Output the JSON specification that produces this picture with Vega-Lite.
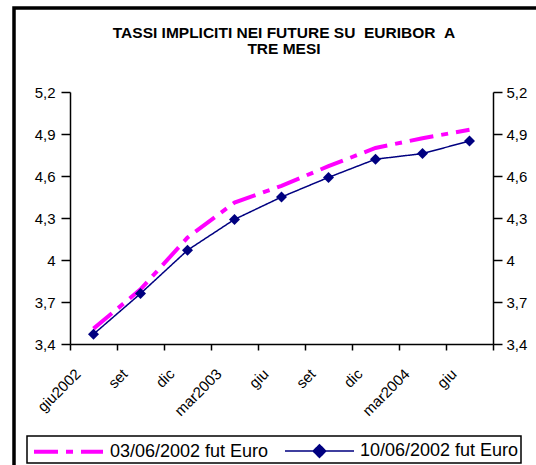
{
  "$schema": "https://vega.github.io/schema/vega-lite/v6.json",
  "width": 528,
  "height": 463,
  "autosize": {"type": "none"},
  "padding": {"left": 14, "top": 8, "right": -6, "bottom": -6},
  "background": "white",
  "title": {
    "text": ["TASSI IMPLICITI NEI FUTURE SU \u00a0EURIBOR \u00a0A", "TRE MESI"],
    "font": "Liberation Sans",
    "fontSize": 15.5,
    "fontWeight": "bold",
    "lineHeight": 16,
    "offset": -49,
    "dx": 6,
    "anchor": "middle",
    "color": "black"
  },
  "config": {
    "view": {"stroke": "black", "strokeWidth": 3.5},
    "axis": {
      "labelFont": "Liberation Sans",
      "labelFontSize": 15,
      "labelColor": "black",
      "domainColor": "black",
      "tickColor": "black",
      "domainWidth": 1.5,
      "tickWidth": 1.5,
      "grid": false,
      "title": null
    }
  },
  "data": {
    "values": [
      {"q": 0, "s": "03/06/2002 fut Euro", "v": 3.51},
      {"q": 1, "s": "03/06/2002 fut Euro", "v": 3.79},
      {"q": 2, "s": "03/06/2002 fut Euro", "v": 4.16},
      {"q": 3, "s": "03/06/2002 fut Euro", "v": 4.41},
      {"q": 4, "s": "03/06/2002 fut Euro", "v": 4.53},
      {"q": 5, "s": "03/06/2002 fut Euro", "v": 4.67},
      {"q": 6, "s": "03/06/2002 fut Euro", "v": 4.80},
      {"q": 7, "s": "03/06/2002 fut Euro", "v": 4.87},
      {"q": 8, "s": "03/06/2002 fut Euro", "v": 4.93},
      {"q": 0, "s": "10/06/2002 fut Euro", "v": 3.47},
      {"q": 1, "s": "10/06/2002 fut Euro", "v": 3.76},
      {"q": 2, "s": "10/06/2002 fut Euro", "v": 4.07},
      {"q": 3, "s": "10/06/2002 fut Euro", "v": 4.29},
      {"q": 4, "s": "10/06/2002 fut Euro", "v": 4.45},
      {"q": 5, "s": "10/06/2002 fut Euro", "v": 4.59},
      {"q": 6, "s": "10/06/2002 fut Euro", "v": 4.72},
      {"q": 7, "s": "10/06/2002 fut Euro", "v": 4.76},
      {"q": 8, "s": "10/06/2002 fut Euro", "v": 4.85}
    ]
  },
  "encoding": {
    "x": {
      "field": "q",
      "type": "ordinal",
      "bandPosition": 0.5,
      "scale": {"type": "band", "paddingInner": 0, "paddingOuter": 0, "range": [56, 479]},
      "axis": {
        "offset": -127,
        "labelExpr": "['giu2002','set','dic','mar2003','giu','set','dic','mar2004','giu'][datum.value]",
        "labelAngle": -45,
        "labelAlign": "right",
        "labelBaseline": "middle",
        "labelOffset": -16,
        "labelPadding": 21,
        "tickBand": "extent",
        "tickSize": 6,
        "encode": {
          "labels": {
            "update": {
              "dx": {"signal": "-(length(datum.label) - 3) * 2.4"}
            }
          }
        }
      }
    }
  },
  "layer": [
    {
      "mark": {"type": "line"},
      "encoding": {
        "y": {
          "field": "v",
          "type": "quantitative",
          "scale": {"domain": [3.4, 5.2], "nice": false, "zero": false, "range": [336, 84]},
          "axis": {
            "orient": "left",
            "offset": -56,
            "values": [3.4, 3.7, 4.0, 4.3, 4.6, 4.9, 5.2],
            "labelExpr": "replace(format(datum.value, '.1~f'), '.', ',')",
            "tickSize": 9,
            "labelPadding": 6
          }
        },
        "color": {
          "field": "s",
          "type": "nominal",
          "scale": {"domain": ["03/06/2002 fut Euro", "10/06/2002 fut Euro"], "range": ["#FF00FF", "#000080"]},
          "legend": {
            "orient": "none",
            "legendX": 13,
            "legendY": 428,
            "direction": "horizontal",
            "title": null,
            "strokeColor": "black",
            "padding": 2,
            "labelFont": "Liberation Sans",
            "labelFontSize": 18,
            "labelColor": "black",
            "labelLimit": 300,
            "columnPadding": 12,
            "symbolSize": 529,
            "labelOffset": 28,
            "symbolOffset": 26,
            "encode": {
              "legend": {"update": {"strokeWidth": {"value": 1.5}}},
              "symbols": {
                "update": {
                  "shape": {"signal": "datum.value === '03/06/2002 fut Euro' ? 'M-3,0H3' : 'M-3,0H3M0,-0.55L0.55,0L0,0.55L-0.55,0Z'"},
                  "strokeDash": {"signal": "datum.value === '03/06/2002 fut Euro' ? [23,13,7,13] : [1,0]"},
                  "strokeWidth": {"signal": "datum.value === '03/06/2002 fut Euro' ? 4 : 1.5"},
                  "fill": {"signal": "datum.value === '03/06/2002 fut Euro' ? 'transparent' : '#000080'"},
                  "opacity": {"value": 1}
                }
              }
            }
          }
        },
        "strokeDash": {
          "field": "s",
          "type": "nominal",
          "scale": {"domain": ["03/06/2002 fut Euro", "10/06/2002 fut Euro"], "range": [[24, 8, 7, 8], [1, 0]]},
          "legend": null
        },
        "strokeWidth": {
          "field": "s",
          "type": "nominal",
          "scale": {"domain": ["03/06/2002 fut Euro", "10/06/2002 fut Euro"], "range": [4, 1.5]},
          "legend": null
        }
      }
    },
    {
      "transform": [{"filter": "datum.s === '10/06/2002 fut Euro'"}],
      "mark": {"type": "point", "shape": "diamond", "filled": true, "size": 120, "color": "#000080", "opacity": 1},
      "encoding": {
        "y": {
          "field": "v",
          "type": "quantitative",
          "axis": {
            "orient": "right",
            "offset": -49,
            "values": [3.4, 3.7, 4.0, 4.3, 4.6, 4.9, 5.2],
            "labelExpr": "replace(format(datum.value, '.1~f'), '.', ',')",
            "tickSize": 9,
            "labelPadding": 4
          }
        }
      }
    }
  ],
  "resolve": {"axis": {"y": "independent"}}
}
